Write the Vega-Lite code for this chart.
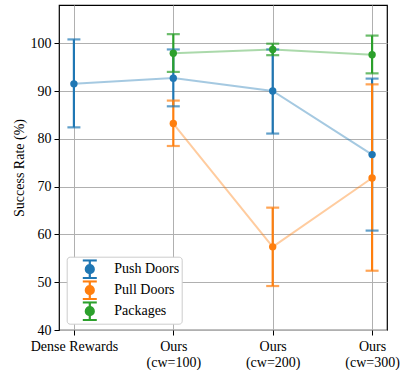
{
  "$schema": "https://vega.github.io/schema/vega-lite/v6.json",
  "width": 328,
  "height": 325,
  "autosize": {"type": "none"},
  "padding": {"left": 59, "top": 5, "right": 15, "bottom": 40},
  "background": "white",
  "config": {
    "font": "Liberation Serif",
    "view": {"stroke": "black", "strokeWidth": 1.2},
    "axis": {
      "labelFont": "Liberation Serif",
      "titleFont": "Liberation Serif",
      "labelFontSize": 14,
      "titleFontSize": 14,
      "titleFontWeight": "normal",
      "labelColor": "black",
      "titleColor": "black",
      "gridColor": "#b0b0b0",
      "gridWidth": 1,
      "tickColor": "black",
      "tickSize": 5,
      "labelPadding": 3,
      "domain": false
    }
  },
  "data": {
    "values": [
      {"task": "Push Doors", "x": 0, "mean": 91.5, "lo": 82.4, "hi": 100.8},
      {"task": "Push Doors", "x": 1, "mean": 92.7, "lo": 86.8, "hi": 98.7},
      {"task": "Push Doors", "x": 2, "mean": 90.0, "lo": 81.1, "hi": 98.7},
      {"task": "Push Doors", "x": 3, "mean": 76.7, "lo": 60.8, "hi": 92.6},
      {"task": "Pull Doors", "x": 1, "mean": 83.2, "lo": 78.5, "hi": 88.0},
      {"task": "Pull Doors", "x": 2, "mean": 57.4, "lo": 49.2, "hi": 65.6},
      {"task": "Pull Doors", "x": 3, "mean": 71.8, "lo": 52.4, "hi": 91.4},
      {"task": "Packages", "x": 1, "mean": 97.9, "lo": 94.0, "hi": 101.9},
      {"task": "Packages", "x": 2, "mean": 98.7, "lo": 97.5, "hi": 99.9},
      {"task": "Packages", "x": 3, "mean": 97.6, "lo": 93.7, "hi": 101.6}
    ]
  },
  "encoding": {
    "x": {
      "field": "x",
      "type": "quantitative",
      "scale": {"domain": [-0.15, 3.15], "nice": false, "zero": false},
      "axis": {
        "title": null,
        "values": [0, 1, 2, 3],
        "labelExpr": "datum.value == 0 ? 'Dense Rewards' : datum.value == 1 ? ['Ours', '(cw=100)'] : datum.value == 2 ? ['Ours', '(cw=200)'] : ['Ours', '(cw=300)']",
        "labelPadding": 4,
        "labelLineHeight": 16
      }
    },
    "color": {
      "field": "task",
      "type": "nominal",
      "scale": {"domain": ["Push Doors", "Pull Doors", "Packages"], "range": ["#1f77b4", "#ff7f0e", "#2ca02c"]},
      "legend": {
        "title": null,
        "orient": "none",
        "legendX": 7.7,
        "legendY": 251.7,
        "fillColor": "white",
        "strokeColor": "#cccccc",
        "cornerRadius": 3,
        "padding": 2.5,
        "labelFont": "Liberation Serif",
        "labelFontSize": 14,
        "labelColor": "black",
        "labelOffset": 31,
        "symbolSize": 16,
        "symbolStrokeWidth": 2.2,
        "rowPadding": 1,
        "clipHeight": 20,
        "symbolType": "M6.8,-4.4L6.8,4.4M3.3,-4.4L10.3,-4.4M3.3,4.4L10.3,4.4M8.8,0A2,2,0,1,1,4.8,0A2,2,0,1,1,8.8,0Z",
        "encode": {
          "symbols": {"update": {"stroke": {"scale": "color", "field": "value"}, "fill": {"scale": "color", "field": "value"}, "opacity": {"value": 1}, "strokeOpacity": {"value": 1}, "fillOpacity": {"value": 1}}}
        }
      }
    }
  },
  "layer": [
    {
      "mark": {"type": "line", "strokeWidth": 2, "opacity": 0.4},
      "encoding": {
        "y": {
          "field": "mean",
          "type": "quantitative",
          "scale": {"domain": [40, 108], "nice": false, "zero": false},
          "axis": {"title": "Success Rate (%)", "values": [40, 50, 60, 70, 80, 90, 100], "titlePadding": 4}
        }
      }
    },
    {
      "mark": {"type": "rule", "strokeWidth": 2.2},
      "encoding": {"y": {"field": "lo", "type": "quantitative"}, "y2": {"field": "hi"}}
    },
    {
      "mark": {"type": "tick", "orient": "horizontal", "size": 13, "thickness": 2.2},
      "encoding": {"y": {"field": "lo", "type": "quantitative"}}
    },
    {
      "mark": {"type": "tick", "orient": "horizontal", "size": 13, "thickness": 2.2},
      "encoding": {"y": {"field": "hi", "type": "quantitative"}}
    },
    {
      "mark": {"type": "point", "filled": true, "opacity": 1, "size": 55},
      "encoding": {"y": {"field": "mean", "type": "quantitative"}}
    }
  ]
}
